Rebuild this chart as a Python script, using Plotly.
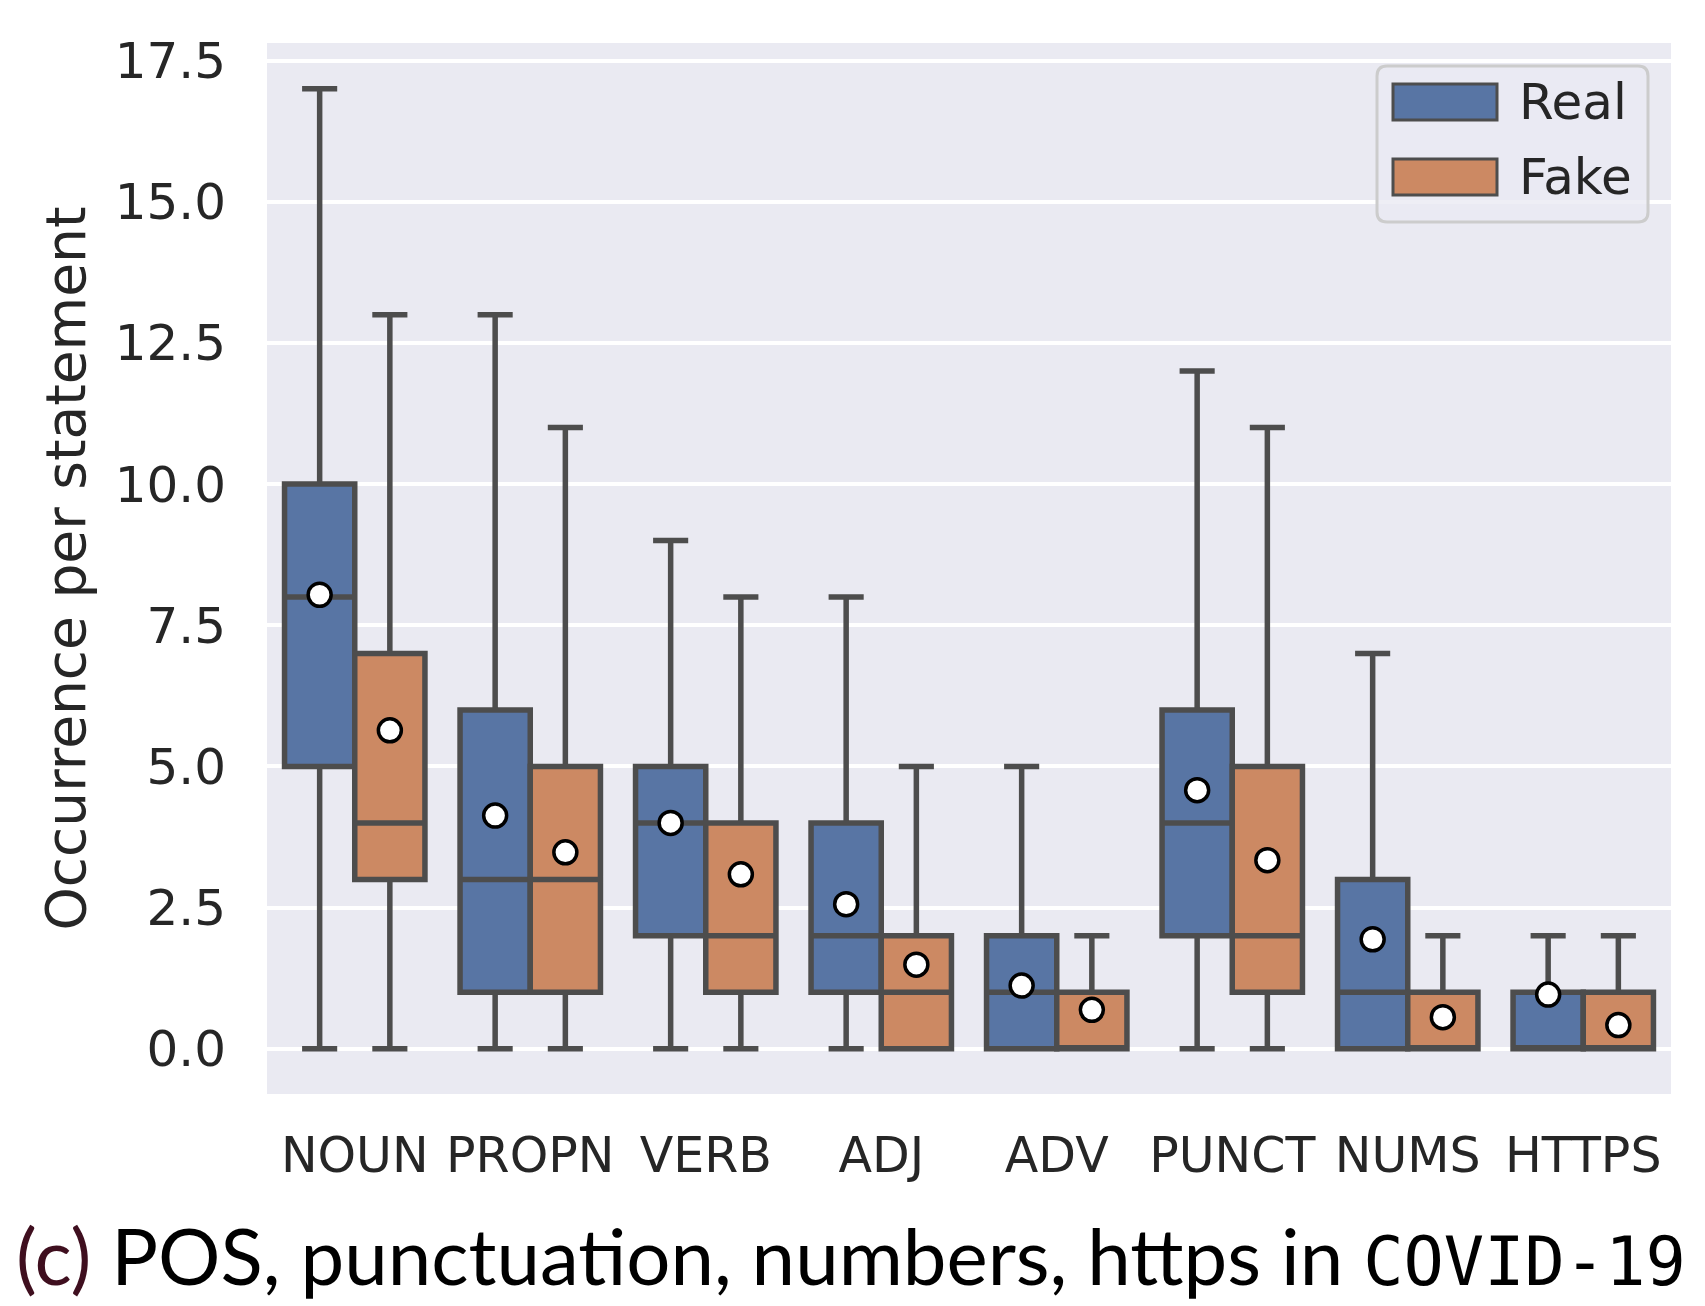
import plotly.graph_objects as go

categories = ["NOUN", "PROPN", "VERB", "ADJ", "ADV", "PUNCT", "NUMS", "HTTPS"]

real_low = [0, 0, 0, 0, 0, 0, 0, 0]
real_q1 = [5, 1, 2, 1, 0, 2, 0, 0]
real_median = [8, 3, 4, 2, 1, 4, 1, 0]
real_q3 = [10, 6, 5, 4, 2, 6, 3, 1]
real_high = [17, 13, 9, 8, 5, 12, 7, 2]
real_mean = [8.04, 4.13, 4.00, 2.56, 1.12, 4.58, 1.94, 0.96]

fake_low = [0, 0, 0, 0, 0, 0, 0, 0]
fake_q1 = [3, 1, 1, 0, 0, 1, 0, 0]
fake_median = [4, 3, 2, 1, 0, 2, 0, 0]
fake_q3 = [7, 5, 4, 2, 1, 5, 1, 1]
fake_high = [13, 11, 8, 5, 2, 11, 2, 2]
fake_mean = [5.64, 3.48, 3.09, 1.49, 0.69, 3.34, 0.56, 0.42]

series_names = ["Real", "Fake"]
colors = ["#5875A4", "#CC8963"]
edge = "#4D4D4D"

# page has an 8px body margin; plot area in page pixels: x 267..1671, y 43..1094
OFF = 8
W, H = 1705 - OFF, 1306 - OFF
PL, PR, PT, PB = 267, 1671, 43, 1094
L, R, T, B = PL - OFF, (OFF + W) - PR, PT - OFF, (OFF + H) - PB
pw, ph = PR - PL, PB - PT

pos = list(range(len(categories)))
real_x = [p - 0.2 for p in pos]
fake_x = [p + 0.2 for p in pos]

fig = go.Figure()
for name, xs, lo, q1, med, q3, hi, col in [
    ("Real", real_x, real_low, real_q1, real_median, real_q3, real_high, colors[0]),
    ("Fake", fake_x, fake_low, fake_q1, fake_median, fake_q3, fake_high, colors[1]),
]:
    fig.add_trace(go.Box(
        name=name, x=xs, q1=q1, median=med, q3=q3, lowerfence=lo, upperfence=hi,
        width=0.4, whiskerwidth=0.5, fillcolor=col,
        line=dict(color=edge, width=5.5), boxpoints=False, showlegend=False,
        hoverinfo="skip",
    ))
for xs, mean in [(real_x, real_mean), (fake_x, fake_mean)]:
    fig.add_trace(go.Scatter(
        x=xs, y=mean, mode="markers", showlegend=False, hoverinfo="skip",
        marker=dict(color="white", size=23, line=dict(color="black", width=3.5)),
    ))

def px_x(p):
    return (p - PL) / pw

def px_y(p):
    return (PB - p) / ph

# legend (custom drawn, seaborn-style)
lx0, lx1, ly0, ly1 = 1377, 1648, 66, 222
r = 10
x0, x1, y0, y1 = px_x(lx0), px_x(lx1), px_y(ly1), px_y(ly0)
rx, ry = r / pw, r / ph
path = (f"M {x0+rx},{y0} L {x1-rx},{y0} Q {x1},{y0} {x1},{y0+ry} "
        f"L {x1},{y1-ry} Q {x1},{y1} {x1-rx},{y1} L {x0+rx},{y1} "
        f"Q {x0},{y1} {x0},{y1-ry} L {x0},{y0+ry} Q {x0},{y0} {x0+rx},{y0} Z")
shapes = [dict(type="path", path=path, xref="paper", yref="paper",
               fillcolor="rgba(234,234,242,0.8)", line=dict(color="#CCCCCC", width=3),
               layer="above")]
annotations = []
for i, (name, col) in enumerate(zip(series_names, colors)):
    cy = 102 + i * 75
    shapes.append(dict(type="rect", xref="paper", yref="paper",
                       x0=px_x(1393), x1=px_x(1497), y0=px_y(cy + 18), y1=px_y(cy - 18),
                       fillcolor=col, line=dict(color=edge, width=3), layer="above"))
    annotations.append(dict(text=name, xref="paper", yref="paper", x=px_x(1517), y=px_y(cy),
                            xanchor="left", yanchor="middle", showarrow=False,
                            font=dict(family="DejaVu Sans", size=50, color="#262626")))

annotations.append(dict(text="Occurrence per statement", xref="paper", yref="paper",
                        x=px_x(65), y=0.5, xanchor="center", yanchor="middle",
                        textangle=-90, showarrow=False,
                        font=dict(family="DejaVu Sans", size=55, color="#262626")))
annotations.append(dict(
    text="<span style='color:#3f0f1f'>(c)</span> POS, punctuation, numbers, https in "
         "<span style='font-family:\"DejaVu Sans Mono\";font-size:67px'>COVID-19</span>",
    xref="paper", yref="paper", x=px_x(14), y=px_y(1255), xanchor="left", yanchor="middle",
    showarrow=False, font=dict(family="Lato", size=78, color="black")))

fig.update_layout(
    width=W, height=H, margin=dict(l=L, r=R, t=T, b=B),
    paper_bgcolor="white", plot_bgcolor="#EAEAF2",
    boxmode="overlay", showlegend=False,
    shapes=shapes, annotations=annotations,
)
fig.update_xaxes(range=[-0.5, 7.5], tickvals=pos, ticktext=categories, showgrid=False,
                 zeroline=False, showline=False, ticks="", ticklabelstandoff=28,
                 tickfont=dict(family="DejaVu Sans", size=49, color="#262626"))
fig.update_yaxes(range=[-0.8, 17.81], tickvals=[0, 2.5, 5, 7.5, 10, 12.5, 15, 17.5],
                 tickformat=".1f", showgrid=True, gridcolor="white", gridwidth=3.5,
                 zeroline=False, showline=False, ticks="", ticklabelstandoff=40,
                 tickfont=dict(family="DejaVu Sans", size=50, color="#262626"))

fig.write_html("out.html")
